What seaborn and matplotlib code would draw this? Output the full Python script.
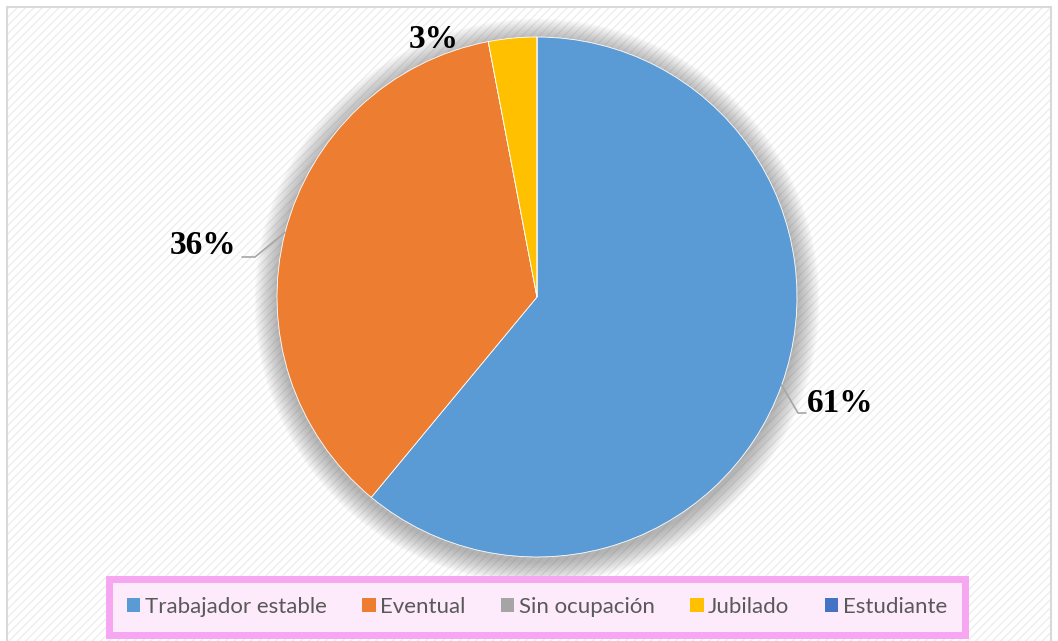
import matplotlib
matplotlib.use("Agg")
import matplotlib.pyplot as plt
import seaborn as sns
import numpy as np
from matplotlib.patches import Patch, Rectangle, Circle

# datos
categorias = ["Trabajador estable", "Eventual", "Sin ocupación", "Jubilado", "Estudiante"]
porcentajes = [61, 36, 0, 3, 0]
colores = ["#5B9BD5", "#ED7D31", "#A5A5A5", "#FFC000", "#4472C4"]

sns.set_theme(style="white")
plt.rcParams["font.family"] = ["Lato", "DejaVu Sans"]

W, H = 1058, 641
fig = plt.figure(figsize=(W / 100, H / 100), dpi=100)
fig.patch.set_facecolor("white")

# fondo con trama diagonal y borde gris
fig.patches.append(Rectangle((7 / W, 0), (1051 - 7) / W, (H - 7) / H, transform=fig.transFigure,
                             facecolor="white", edgecolor="#eeeeee", hatch="////", linewidth=0, zorder=-2))
fig.patches.append(Rectangle((7 / W, -0.05), (1051 - 7) / W, (H - 7) / H + 0.05, transform=fig.transFigure,
                             facecolor="none", edgecolor="#d9d9d9", linewidth=1.5, zorder=-1))

ax = fig.add_axes([0, 0, 1, 1])
ax.patch.set_alpha(0)

cx, cy, r = 537, H - 297, 260

# sombra difusa
for k in range(16, 0, -1):
    ax.add_patch(Circle((cx, cy - 4), r + k * 1.4, color="#555555", alpha=0.03, lw=0, zorder=1))

wedges, _ = ax.pie(porcentajes, colors=colores, startangle=90, counterclock=False,
                   center=(cx, cy), radius=r, wedgeprops=dict(linewidth=0.6, edgecolor="white"),
                   frame=True)
for w in wedges:
    w.set_zorder(2)
ax.set_xlim(0, W)
ax.set_ylim(0, H)
ax.set_aspect("equal")
ax.axis("off")

# etiquetas con líneas guía
etiquetas = {0: (840, 403), 1: (203, 246), 3: (434, 40)}
for i, (tx, ty) in etiquetas.items():
    w = wedges[i]
    ang = np.deg2rad((w.theta1 + w.theta2) / 2)
    ex, ey = cx + r * np.cos(ang), cy + r * np.sin(ang)
    ax.text(tx, H - ty, f"{porcentajes[i]}%", fontsize=24, fontweight="bold",
            family="Liberation Serif", color="black", ha="center", va="center", zorder=5)
    if i == 0:
        kx, ky = tx - 42, H - ty - 10
        ax.plot([ex, kx, kx + 8], [ey, ky, ky], color="#a6a6a6", lw=1.2, zorder=3)
    elif i == 1:
        kx, ky = tx + 52, H - ty - 11
        ax.plot([ex, kx, kx - 13], [ey, ky, ky], color="#a6a6a6", lw=1.2, zorder=3)

handles = [Patch(facecolor=c, edgecolor="none") for c in colores]
leg = fig.legend(handles, categorias, loc="center", bbox_to_anchor=(537 / W, 1 - 607 / H),
                 ncol=5, fontsize=16, frameon=True, fancybox=False,
                 handlelength=0.6, handleheight=0.6, handletextpad=0.2, columnspacing=1.6,
                 borderpad=0.8, labelcolor="#595959")
frame = leg.get_frame()
frame.set_facecolor("#FDEAFB")
frame.set_edgecolor("#F7A6F2")
frame.set_linewidth(5)
frame.set_alpha(1)

fig.savefig("out.png", dpi=100)
